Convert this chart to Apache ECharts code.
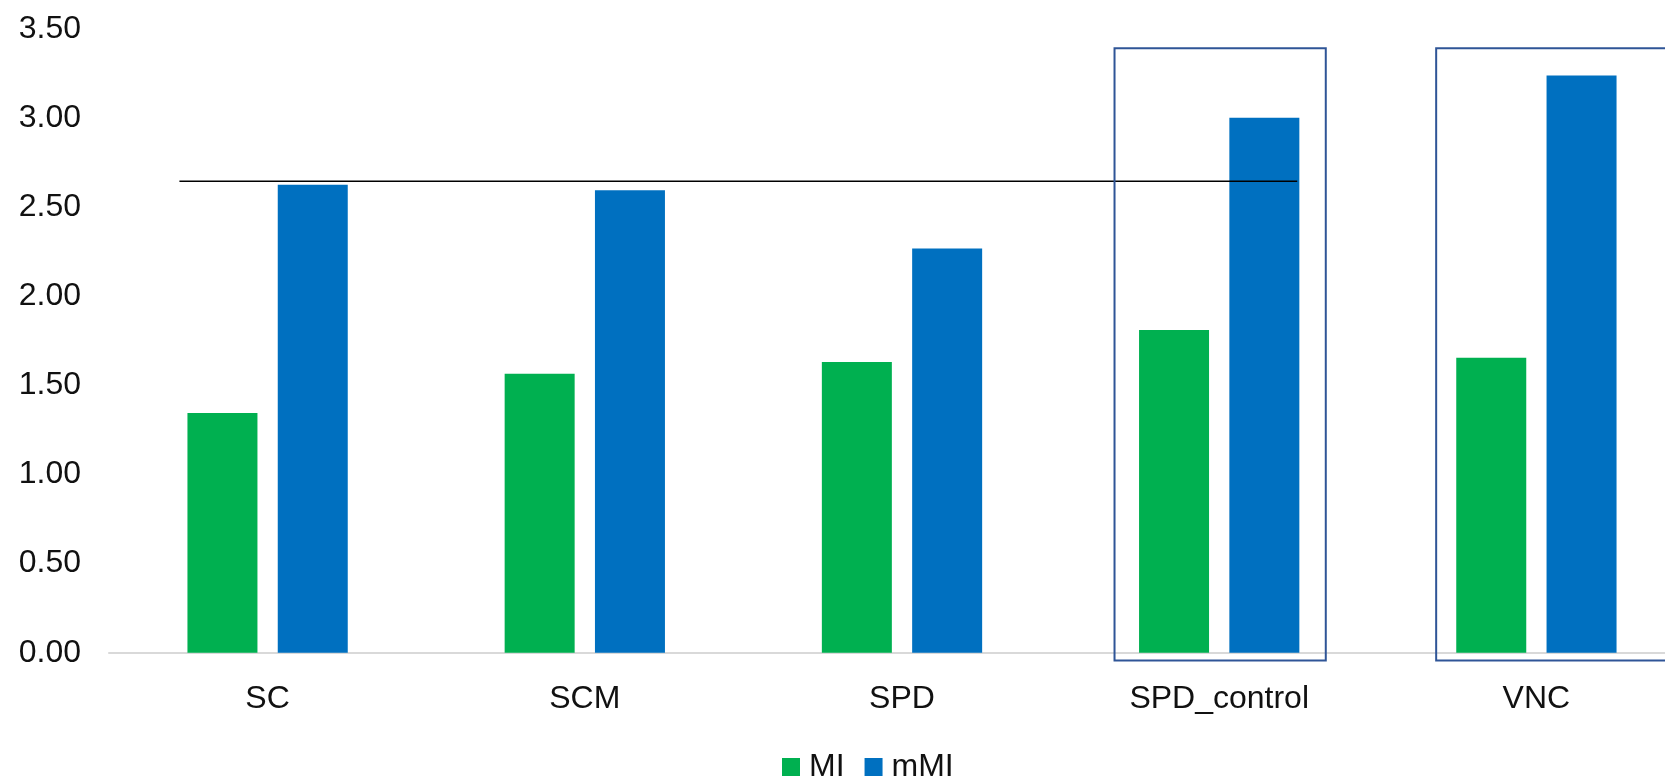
<!DOCTYPE html>
<html>
<head>
<meta charset="utf-8">
<title>MI / mMI</title>
<script src="https://cdn.jsdelivr.net/npm/echarts@6/dist/echarts.min.js"></script>
<style>
  html, body { margin: 0; padding: 0; background: #fff; }
  #chart { width: 1665px; height: 778px; }
</style>
</head>
<body>
<div id="chart"></div>
<script>
// categories and values
var categories = ['SC', 'SCM', 'SPD', 'SPD_control', 'VNC'];
var legendNames = ['MI', 'mMI'];
var miValues = [1.345, 1.565, 1.63, 1.81, 1.655];
var mmiValues = [2.625, 2.594, 2.267, 3.0, 3.238];
var yTicks = [0, 0.5, 1, 1.5, 2, 2.5, 3, 3.5];

// reference line (level 2.64), from the SC bars to the SPD_control bars,
// in category units on the hidden value x axis (0..5)
var refLine = [[0.222, 2.644], [3.746, 2.644]];
// highlight boxes [x0, x1, y0, y1] in the same units
var boxes = [[3.17, 3.836, -0.044, 3.391], [4.184, 5.3, -0.044, 3.391]];

var chart = echarts.init(document.getElementById('chart'));

var font = 'Liberation Sans, Arial, sans-serif';

var option = {
  animation: false,
  grid: {
    left: 109,
    right: -30,
    top: 28.7,
    bottom: 125.3,
    containLabel: false,
    outerBoundsMode: 'none'
  },
  legend: {
    data: legendNames,
    top: 751,
    left: 782,
    padding: 0,
    icon: 'rect',
    itemWidth: 18,
    itemHeight: 18,
    itemGap: 20,
    textStyle: { fontFamily: font, fontSize: 32, color: '#111', padding: [0, 0, 0, 4] }
  },
  xAxis: [{
    type: 'category',
    data: categories,
    axisTick: { show: false },
    axisLine: { lineStyle: { color: '#d9d9d9', width: 2 } },
    axisLabel: { fontFamily: font, fontSize: 32, color: '#111', margin: 30 }
  }, {
    // hidden helper axis for the line and boxes
    type: 'value',
    min: 0,
    max: 5,
    show: false
  }],
  yAxis: {
    type: 'value',
    min: yTicks[0],
    max: yTicks[yTicks.length - 1],
    interval: 0.5,
    splitLine: { show: false },
    axisLine: { show: false },
    axisTick: { show: false },
    axisLabel: {
      fontFamily: font, fontSize: 32, color: '#111', margin: 28,
      formatter: function (v) { return v.toFixed(2); }
    }
  },
  series: [{
    name: legendNames[0],
    type: 'bar',
    data: miValues,
    barWidth: 70,
    barGap: '29%',
    itemStyle: { color: '#00b050' }
  }, {
    name: legendNames[1],
    type: 'bar',
    data: mmiValues,
    barWidth: 70,
    itemStyle: { color: '#0070c0' }
  }, {
    type: 'line',
    xAxisIndex: 1,
    data: refLine,
    symbol: 'none',
    silent: true,
    z: 5,
    lineStyle: { color: '#000', width: 1.5 }
  }, {
    type: 'custom',
    xAxisIndex: 1,
    data: boxes,
    silent: true,
    z: 6,
    renderItem: function (params, api) {
      var p0 = api.coord([api.value(0), api.value(3)]);
      var p1 = api.coord([api.value(1), api.value(2)]);
      return {
        type: 'rect',
        shape: { x: p0[0], y: p0[1], width: p1[0] - p0[0], height: p1[1] - p0[1] },
        style: { fill: 'none', stroke: '#2f5597', lineWidth: 2 }
      };
    }
  }]
};

chart.setOption(option);
</script>
</body>
</html>
